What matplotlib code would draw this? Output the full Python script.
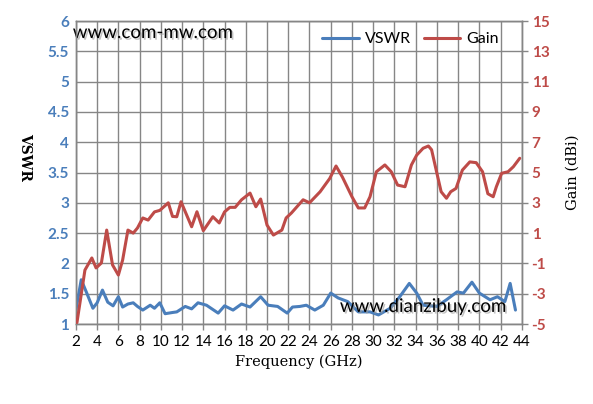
import numpy as np
import matplotlib.pyplot as plt
import matplotlib.patheffects as pe

plt.rcParams['axes.unicode_minus'] = False

# VSWR 곡선 (주파수 GHz, 값)
vswr_f = [2.0, 2.5, 3.0, 3.6, 4.0, 4.5, 5.0, 5.5, 6.0, 6.4, 6.9, 7.4, 7.8, 8.3, 9.0, 9.4,
          9.9, 10.4, 11.1, 11.5, 12.3, 12.9, 13.5, 14.3, 15.4, 16.0, 16.8, 17.6, 18.4,
          19.4, 20.1, 21.0, 21.9, 22.4, 23.1, 23.7, 24.5, 25.3, 26.0, 26.7, 27.6, 28.6,
          29.7, 30.5, 31.6, 32.5, 33.4, 34.1, 34.7, 36.0, 36.9, 37.9, 38.5, 39.3, 40.0,
          41.0, 41.7, 42.4, 42.9, 43.4]
vswr = [1.23, 1.73, 1.52, 1.26, 1.35, 1.56, 1.36, 1.30, 1.45, 1.28, 1.33, 1.35, 1.29, 1.23,
        1.31, 1.26, 1.35, 1.17, 1.19, 1.20, 1.29, 1.25, 1.35, 1.31, 1.18, 1.30, 1.23, 1.33,
        1.28, 1.45, 1.31, 1.29, 1.18, 1.28, 1.29, 1.31, 1.23, 1.31, 1.51, 1.43, 1.37, 1.20,
        1.20, 1.15, 1.26, 1.45, 1.67, 1.51, 1.31, 1.29, 1.40, 1.53, 1.51, 1.69, 1.51,
        1.40, 1.45, 1.37, 1.67, 1.23]

# Gain 곡선 (dBi)
gain_f = [2.1, 2.85, 3.5, 3.9, 4.4, 4.9, 5.45, 6.0, 6.4, 6.9, 7.4, 7.8, 8.3, 8.8, 9.4, 9.9,
          10.7, 11.1, 11.5, 11.9, 12.9, 13.4, 14.0, 14.9, 15.5, 16.0, 16.5, 17.0, 17.6,
          18.4, 18.95, 19.4, 20.0, 20.6, 21.4, 21.8, 22.3, 23.4, 24.0, 25.0, 25.9, 26.5,
          27.1, 28.0, 28.6, 29.2, 29.7, 30.3, 31.1, 31.7, 32.3, 33.0, 33.6, 34.1, 34.7,
          35.2, 35.5, 36.0, 36.4, 36.9, 37.3, 37.8, 38.4, 39.1, 39.7, 40.3, 40.8, 41.3,
          41.6, 42.1, 42.7, 43.2, 43.8]
gain = [-4.9, -1.44, -0.64, -1.3, -0.97, 1.2, -1.1, -1.77, -0.78, 1.2, 1.0, 1.34, 2.0, 1.86,
        2.4, 2.5, 3.0, 2.1, 2.08, 3.07, 1.42, 2.41, 1.16, 2.08, 1.67, 2.4, 2.7, 2.7, 3.2,
        3.64, 2.74, 3.25, 1.53, 0.87, 1.2, 2.0, 2.33, 3.2, 3.0, 3.73, 4.6, 5.43, 4.7, 3.4,
        2.66, 2.66, 3.4, 5.05, 5.5, 5.05, 4.17, 4.06, 5.5, 6.15, 6.6, 6.75, 6.5, 4.95, 3.73,
        3.3, 3.73, 3.95, 5.16, 5.7, 5.65, 5.05, 3.6, 3.4, 4.06, 4.95, 5.05, 5.38, 5.94]

x_ticks = list(range(2, 45, 2))
vswr_ticks = [1, 1.5, 2, 2.5, 3, 3.5, 4, 4.5, 5, 5.5, 6]
vswr_labels = ['1', '1.5', '2', '2.5', '3', '3.5', '4', '4.5', '5', '5.5', '6']
gain_ticks = list(range(-5, 16, 2))

blue = '#4a7ebb'
red = '#be4b48'
grid_c = '#868686'

fig = plt.figure(figsize=(5.93, 4.04), dpi=100)
ax = fig.add_axes([0.128, 0.198, 0.752, 0.750])
ax2 = ax.twinx()

l1, = ax.plot(vswr_f, vswr, color=blue, lw=2.2, solid_capstyle='round', zorder=3)
l2, = ax2.plot(gain_f, gain, color=red, lw=2.2, solid_capstyle='round', zorder=3)

ax.set_xlim(2, 44)
ax.set_ylim(1, 6)
ax2.set_ylim(-5, 15)
ax.set_xticks(x_ticks)
ax.set_yticks(vswr_ticks)
ax.set_yticklabels(vswr_labels)
ax2.set_yticks(gain_ticks)

ax.grid(True, color=grid_c, lw=1.0)
ax.set_axisbelow(True)
for a in (ax, ax2):
    for s in a.spines.values():
        s.set_color(grid_c)
        s.set_linewidth(1.0)

ax.tick_params(axis='x', colors=grid_c, length=4, width=1, labelcolor='black',
               labelsize=11, pad=4)
ax.tick_params(axis='y', length=0, labelcolor=blue, labelsize=11, pad=5)
ax2.tick_params(axis='y', colors=grid_c, length=4, width=1, labelcolor=red,
                labelsize=11, pad=3)
for t in ax.get_yticklabels() + ax2.get_yticklabels():
    t.set_fontweight('bold')
for t in ax.get_yticklabels() + ax2.get_yticklabels() + ax.get_xticklabels():
    t.set_fontfamily('Lato')

ax.set_xlabel('Frequency (GHz)', fontfamily='DejaVu Serif', fontsize=10.5, labelpad=4)
ax.set_ylabel('VSWR', fontfamily='DejaVu Serif', fontsize=10, fontweight='bold',
              rotation=-90, va='center', ha='center')
ax.yaxis.set_label_coords(-0.114, 0.55)
ax2.set_ylabel('Gain (dBi)', fontfamily='DejaVu Serif', fontsize=10.5, labelpad=12)

# 워터마크 (그림자 효과)
shadow = [pe.withSimplePatchShadow(offset=(1.2, -1.2), shadow_rgbFace='#999999', alpha=0.6)]
for txt, xx, yy, va in [('www.com-mw.com', -0.007, 0.99, 'top'),
                        ('www.dianzibuy.com', 0.592, 0.03, 'bottom')]:
    ax.text(xx, yy, txt, transform=ax.transAxes, fontsize=13.5, fontfamily='Lato',
            color='black', va=va, zorder=5, path_effects=shadow)

leg = ax2.legend([l1, l2], ['VSWR', 'Gain'], loc='upper right', bbox_to_anchor=(0.962, 0.985),
                 borderaxespad=0, ncol=2, frameon=False, handlelength=2.3, columnspacing=0.8,
                 handletextpad=0.35, prop={'family': 'Lato', 'size': 11.5})

fig.savefig('out.png', dpi=100)
